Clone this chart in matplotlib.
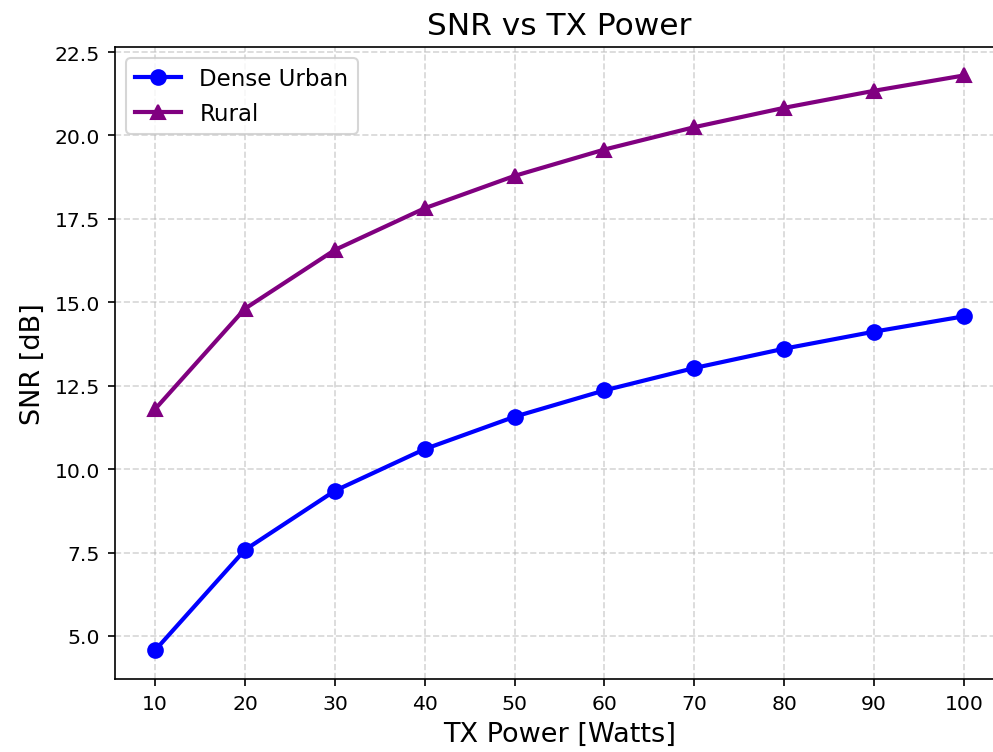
import numpy as np
from matplotlib import pyplot as plt

# 发射功率 (W)
tx_power = [10, 20, 30, 40, 50, 60, 70, 80, 90, 100]
# 各场景下的信噪比 (dB)
snr_dense_urban = [4.57, 7.58, 9.35, 10.60, 11.57, 12.36, 13.03, 13.61, 14.12, 14.58]
snr_rural = [11.80, 14.81, 16.57, 17.82, 18.79, 19.58, 20.25, 20.83, 21.34, 21.80]

fig = plt.figure(figsize=(993 / 150, 753 / 150), dpi=150)
ax = fig.add_axes([114.7 / 993, 1 - 680 / 753, (1004.4 - 114.7) / 993, (680 - 47.7) / 753])

ax.plot(tx_power, snr_dense_urban, color="blue", marker="o", markersize=7,
        linewidth=2, label="Dense Urban")
ax.plot(tx_power, snr_rural, color="purple", marker="^", markersize=7,
        linewidth=2, label="Rural")

ax.set_title("SNR vs TX Power", fontsize=15)
ax.set_xlabel("TX Power [Watts]", fontsize=13)
ax.set_ylabel("SNR [dB]", fontsize=13)
ax.set_xticks(tx_power)
ax.tick_params(labelsize=9.8)
ax.grid(True, linestyle="--", alpha=0.5)
ax.legend(loc="upper left", fontsize=11)

plt.savefig("out.png", dpi=150)
